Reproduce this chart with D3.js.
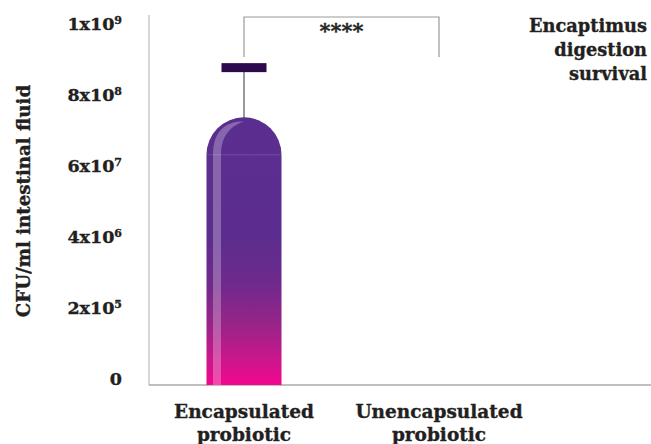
<!DOCTYPE html>
<html><head><meta charset="utf-8">
<script src="https://cdn.jsdelivr.net/npm/d3@7"></script>
<style>
html,body{margin:0;padding:0;background:#fff;}
svg text{font-family:"DejaVu Serif",serif;font-weight:bold;fill:#231f20;stroke:#231f20;stroke-width:0.35px;}
</style></head>
<body><svg id="c" width="651" height="444"></svg>
<script>
const categories = [["Encapsulated","probiotic"],["Unencapsulated","probiotic"]];
const categoryKeys = ["Encapsulated probiotic","Unencapsulated probiotic"];
const values = [3.77, 0];
const errorHigh = [4.47, null];
const tickValues = [0,1,2,3,4,5];
const tickBase = ["0","2x10","4x10","6x10","8x10","1x10"];
const tickExp = ["","5","6","7","8","9"];
const titleLines = ["Encaptimus","digestion","survival"];
const yTitle = "CFU/ml intestinal fluid";
const sigLabel = "****";

const svg = d3.select("#c");
const x = d3.scalePoint().domain(categoryKeys).range([244, 439]);
const y = d3.scaleLinear().domain([0,5]).range([385, 30]);
const barW = 75;

const defs = svg.append("defs");
const g = defs.append("linearGradient").attr("id","bg").attr("x1",0).attr("y1",0).attr("x2",0).attr("y2",1);
[[0,"#5a2e8f"],[0.45,"#5c2d8e"],[0.62,"#6e2a8c"],[0.78,"#9a2389"],[0.9,"#c9178c"],[1,"#f2068e"]]
  .forEach(([o,c])=>g.append("stop").attr("offset",o).attr("stop-color",c));

// axes
svg.append("line").attr("x1",149).attr("x2",149).attr("y1",15).attr("y2",y(0)).attr("stroke","#bbb").attr("stroke-width",1.2);
svg.append("line").attr("x1",149).attr("x2",651).attr("y1",y(0)).attr("y2",y(0)).attr("stroke","#aaa").attr("stroke-width",1.5);

// y tick labels
const tl = svg.append("g").selectAll("text").data(tickValues).join("text")
  .attr("x",122).attr("y",d=>y(d)).attr("dy","0.35em")
  .attr("text-anchor","end").attr("font-size",17.5)
  .attr("transform","translate(0,-6)");
tl.append("tspan").text((d,i)=>tickBase[i]);
tl.append("tspan").attr("font-size",11).attr("dy","-0.6em").text((d,i)=>tickExp[i]);

// y title
svg.append("text").attr("transform","translate(30,201) rotate(-90)").attr("text-anchor","middle")
  .attr("font-size",18.2).text(yTitle);

// x labels
categories.forEach((c,i)=>{
  const t = svg.append("text").attr("text-anchor","middle").attr("font-size",18.5);
  c.forEach((line,j)=>t.append("tspan").attr("x",x(categoryKeys[i])).attr("y",418+j*23).text(line));
});

// title
const tt = svg.append("text").attr("text-anchor","end").attr("font-size",17.8);
titleLines.forEach((l,j)=>tt.append("tspan").attr("x",647).attr("y",32+j*24).text(l));

// bars
categoryKeys.forEach((k,i)=>{
  if(!values[i]) return;
  const cx = x(k), x0 = cx-barW/2, x1 = cx+barW/2, r = barW/2;
  const top = y(values[i]), seam = top + r, base = y(0);
  if(errorHigh[i]!=null){
    svg.append("line").attr("x1",cx).attr("x2",cx).attr("y1",y(errorHigh[i])).attr("y2",top+2).attr("stroke","#777").attr("stroke-width",1.5);
    svg.append("rect").attr("x",cx-22.5).attr("width",45).attr("y",y(errorHigh[i])-4.5).attr("height",9).attr("fill","#2d0a4e");
  }
  const p = d3.path();
  p.moveTo(x0, base); p.lineTo(x0, seam);
  p.arc(cx, seam, r, Math.PI, 2*Math.PI);
  p.lineTo(x1, base); p.closePath();
  svg.append("path").attr("d",p.toString()).attr("fill","url(#bg)");
  svg.append("line").attr("x1",x0).attr("x2",x1).attr("y1",seam).attr("y2",seam).attr("stroke","rgba(255,255,255,0.15)").attr("stroke-width",1);
  const hx0 = x0+6.5, hx1 = x0+14.5;
  const h = d3.path();
  h.moveTo(hx0, base); h.lineTo(hx0, seam);
  h.bezierCurveTo(hx0, seam-22, cx-20, top+4, cx, top+4);
  h.bezierCurveTo(cx-14, top+9, hx1, seam-18, hx1, seam);
  h.lineTo(hx1, base); h.closePath();
  svg.append("path").attr("d",h.toString()).attr("fill","rgba(255,255,255,0.27)");
});

// significance bracket
const bx0 = x(categoryKeys[0]), bx1 = x(categoryKeys[1]);
svg.append("path").attr("d",`M${bx0},57V17H${bx1}V57`).attr("fill","none").attr("stroke","#999").attr("stroke-width",1.2);
svg.append("text").attr("x",(bx0+bx1)/2).attr("y",38).attr("text-anchor","middle").attr("font-size",21).text(sigLabel);
</script></body></html>
